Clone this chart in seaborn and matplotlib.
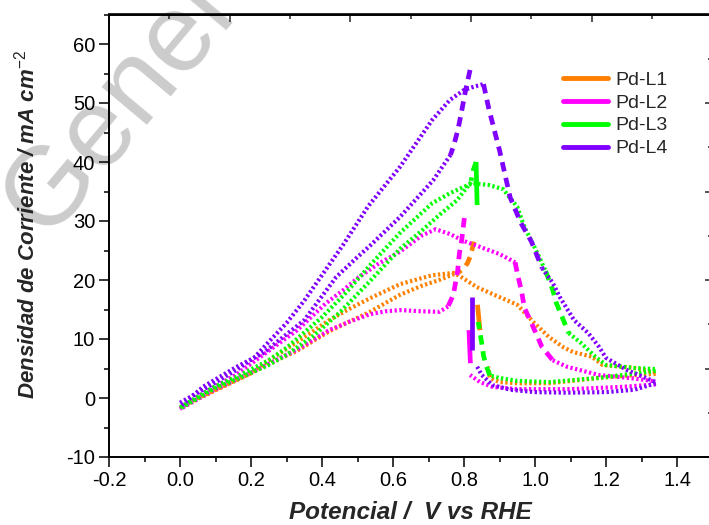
import matplotlib
matplotlib.use("Agg")
import matplotlib.pyplot as plt
from matplotlib.lines import Line2D
from matplotlib.ticker import MultipleLocator, FixedLocator
import numpy as np
import seaborn as sns

# ---------------- cyclic voltammograms (V vs RHE, mA cm^-2) ----------------
labels = ["Pd-L1", "Pd-L2", "Pd-L3", "Pd-L4"]
colors = ["#FF8000", "#FF00FF", "#00FF00", "#8000FF"]

# Pd-L1
L1_fwd_V = [0.00, 0.05, 0.10, 0.20, 0.254, 0.35, 0.42, 0.48, 0.535, 0.62, 0.71, 0.77,
            0.79, 0.836, 0.90, 0.95, 0.995, 1.04, 1.08, 1.107, 1.16, 1.19, 1.277, 1.34]
L1_fwd_j = [-1.7, 0.0, 1.4, 4.2, 6.5, 10.3, 13.2, 15.2, 16.9, 19.3, 20.8, 21.2,
            20.6, 18.8, 17.1, 15.8, 12.9, 10.3, 8.6, 7.8, 7.0, 5.6, 5.1, 4.4]
L1_base_V = [1.34, 1.26, 1.18, 1.04, 0.95, 0.90, 0.873, 0.868]
L1_base_j = [4.1, 3.8, 3.4, 2.5, 2.5, 2.7, 3.4, 5.3]
L1_rise_V = [0.845, 0.838]
L1_rise_j = [11.5, 15.8]
L1_peak_V = [0.828, 0.822, 0.817, 0.81, 0.80, 0.785]
L1_peak_j = [26.5, 25.0, 23.9, 22.9, 22.0, 21.3]
L1_ret_V = [0.785, 0.73, 0.68, 0.62, 0.535, 0.42, 0.33, 0.25, 0.20, 0.10, 0.00]
L1_ret_j = [21.3, 20.0, 19.0, 17.5, 14.6, 11.3, 8.0, 5.8, 4.2, 1.3, -1.6]

# Pd-L2
L2_fwd_V = [0.00, 0.05, 0.10, 0.16, 0.20, 0.25, 0.33, 0.41, 0.46, 0.50, 0.56, 0.62,
            0.68, 0.72, 0.76, 0.80, 0.85, 0.90, 0.944]
L2_fwd_j = [-1.8, 0.3, 2.0, 4.0, 5.8, 8.0, 11.5, 16.0, 18.3, 20.3, 22.8, 24.8,
            27.5, 28.6, 27.8, 26.6, 25.5, 24.4, 23.0]
L2_fall_V = [0.944, 0.95, 0.963, 0.97, 0.99, 1.02, 1.05]
L2_fall_j = [23.0, 21.2, 17.8, 15.3, 12.7, 8.6, 6.4]
L2_tail_V = [1.05, 1.09, 1.18, 1.28, 1.34]
L2_tail_j = [6.4, 5.3, 3.9, 3.3, 2.8]
L2_base_V = [1.34, 1.25, 1.10, 0.95, 0.88, 0.845, 0.817]
L2_base_j = [2.3, 1.9, 1.5, 1.5, 1.9, 2.7, 3.9]
L2_rise_V = [0.818, 0.814]
L2_rise_j = [5.9, 11.5]
L2_peak_V = [0.801, 0.797, 0.793, 0.787, 0.782, 0.77, 0.755]
L2_peak_j = [30.5, 28.5, 26.5, 24.5, 21.5, 17.5, 15.5]
L2_ret_V = [0.755, 0.73, 0.68, 0.62, 0.58, 0.535, 0.48, 0.42, 0.33, 0.25, 0.20, 0.10, 0.00]
L2_ret_j = [15.5, 14.6, 14.7, 14.9, 14.7, 14.2, 13.0, 11.5, 8.2, 5.8, 4.3, 1.5, -1.9]

# Pd-L3
L3_fwd_V = [0.00, 0.05, 0.10, 0.16, 0.25, 0.30, 0.40, 0.47, 0.535, 0.62, 0.71, 0.76,
            0.80, 0.826, 0.87, 0.91, 0.95, 0.97, 1.00, 1.03]
L3_fwd_j = [-1.6, 0.2, 2.0, 3.6, 6.4, 8.5, 13.7, 18.0, 22.5, 28.0, 33.0, 34.7,
            35.8, 36.4, 36.1, 35.4, 32.4, 29.0, 25.4, 21.5]
L3_fall_V = [1.03, 1.05, 1.06, 1.08, 1.095]
L3_fall_j = [21.5, 18.3, 16.1, 13.2, 11.0]
L3_tail_V = [1.095, 1.13, 1.17, 1.20, 1.28, 1.34]
L3_tail_j = [11.0, 9.3, 7.0, 5.6, 5.1, 4.9]
L3_base_V = [1.34, 1.26, 1.18, 1.04, 0.95, 0.90, 0.873]
L3_base_j = [4.6, 4.0, 3.4, 2.7, 2.9, 3.4, 3.8]
L3_rise_V = [0.873, 0.862, 0.855, 0.85, 0.84]
L3_rise_j = [3.8, 5.5, 7.2, 9.3, 12.9]
L3_top_V = [0.837, 0.834]
L3_top_j = [32.7, 40.0]
L3_peak_V = [0.834, 0.826, 0.82]
L3_peak_j = [40.0, 38.6, 36.8]
L3_ret_V = [0.82, 0.78, 0.73, 0.68, 0.62, 0.535, 0.45, 0.375, 0.30, 0.25, 0.16, 0.10, 0.00]
L3_ret_j = [36.6, 33.5, 31.0, 28.3, 25.3, 19.8, 14.5, 10.5, 7.3, 5.6, 3.2, 1.7, -1.8]

# Pd-L4
L4_fwd_V = [0.00, 0.05, 0.11, 0.16, 0.21, 0.25, 0.30, 0.35, 0.41, 0.46, 0.53, 0.62,
            0.71, 0.76, 0.80, 0.83, 0.855]
L4_fwd_j = [-0.8, 0.9, 3.0, 4.8, 6.9, 9.5, 12.7, 16.5, 21.7, 26.0, 32.5, 39.2,
            47.1, 50.5, 52.2, 52.8, 53.2]
L4_fall_V = [0.855, 0.87, 0.90, 0.93, 0.96, 0.99, 1.02]
L4_fall_j = [53.2, 49.0, 42.0, 34.0, 29.7, 26.5, 22.0]
L4_tail_V = [1.02, 1.05, 1.07, 1.11, 1.15, 1.18, 1.20, 1.26, 1.34]
L4_tail_j = [22.0, 19.5, 17.1, 13.2, 11.0, 8.7, 6.8, 4.7, 2.7]
L4_base_V = [1.34, 1.28, 1.20, 1.09, 1.00, 0.93, 0.88, 0.85, 0.836]
L4_base_j = [2.5, 1.4, 1.0, 0.9, 1.0, 1.4, 2.2, 3.9, 5.4]
L4_rise_V = [0.822, 0.822]
L4_rise_j = [8.1, 17.1]
L4_peak_V = [0.817, 0.803, 0.793, 0.783, 0.772, 0.762]
L4_peak_j = [55.6, 51.7, 48.5, 45.5, 43.0, 41.2]
L4_ret_V = [0.762, 0.713, 0.62, 0.535, 0.50, 0.44, 0.35, 0.234, 0.16, 0.065, 0.00]
L4_ret_j = [41.2, 36.9, 30.7, 25.8, 23.9, 20.5, 13.2, 7.6, 5.3, 1.9, -1.5]

# sweep pieces: (V, j, stroke) for each electrode
sweeps = {
    "Pd-L1": [(L1_fwd_V, L1_fwd_j, "dot"), (L1_base_V, L1_base_j, "dot"),
              (L1_rise_V, L1_rise_j, "bar"), (L1_peak_V, L1_peak_j, "dash"),
              (L1_ret_V, L1_ret_j, "dot")],
    "Pd-L2": [(L2_fwd_V, L2_fwd_j, "dot"), (L2_fall_V, L2_fall_j, "dash"),
              (L2_tail_V, L2_tail_j, "dot"), (L2_base_V, L2_base_j, "dot"),
              (L2_rise_V, L2_rise_j, "bar"), (L2_peak_V, L2_peak_j, "dash"),
              (L2_ret_V, L2_ret_j, "dot")],
    "Pd-L3": [(L3_fwd_V, L3_fwd_j, "dot"), (L3_fall_V, L3_fall_j, "dash"),
              (L3_tail_V, L3_tail_j, "dot"), (L3_base_V, L3_base_j, "dot"),
              (L3_rise_V, L3_rise_j, "dash"), (L3_top_V, L3_top_j, "bar"),
              (L3_peak_V, L3_peak_j, "dash"), (L3_ret_V, L3_ret_j, "dot")],
    "Pd-L4": [(L4_fwd_V, L4_fwd_j, "dot"), (L4_fall_V, L4_fall_j, "dash"),
              (L4_tail_V, L4_tail_j, "dot"), (L4_base_V, L4_base_j, "dot"),
              (L4_rise_V, L4_rise_j, "bar"), (L4_peak_V, L4_peak_j, "dash"),
              (L4_ret_V, L4_ret_j, "dot")],
}

x_major = [-0.2, 0.0, 0.2, 0.4, 0.6, 0.8, 1.0, 1.2, 1.4]
y_major = [-10, 0, 10, 20, 30, 40, 50, 60]

# ---------------- styling ----------------
sns.set_theme(style="ticks")
plt.rcParams["font.family"] = ["Liberation Sans", "DejaVu Sans"]
plt.rcParams["axes.unicode_minus"] = False
plt.rcParams["mathtext.fontset"] = "custom"
plt.rcParams["mathtext.rm"] = "Liberation Sans"
plt.rcParams["mathtext.it"] = "Liberation Sans:italic"
plt.rcParams["mathtext.bf"] = "Liberation Sans:bold"

strokes = {
    "dot": dict(lw=3.0, linestyle=(0, (0.55, 0.6)), dash_capstyle="butt"),
    "dash": dict(lw=3.4, linestyle=(0, (2.0, 1.4)), dash_capstyle="butt"),
    "bar": dict(lw=3.4, linestyle="-", solid_capstyle="butt"),
}

fig = plt.figure(figsize=(7.09, 5.25), dpi=100)
ax = fig.add_axes([109 / 709, 68 / 525, 603.5 / 709, 442.5 / 525])
ax.patch.set_alpha(0)

for name, color in zip(labels, colors):
    for V, j, kind in sweeps[name]:
        sns.lineplot(x=V, y=j, ax=ax, sort=False, estimator=None, color=color,
                     legend=False, **strokes[kind])

ax.set_xlim(-0.2, 1.5)
ax.set_ylim(-10, 65)
ax.xaxis.set_major_locator(FixedLocator(x_major))
ax.xaxis.set_minor_locator(MultipleLocator(0.1))
ax.yaxis.set_major_locator(FixedLocator(y_major))
ax.yaxis.set_minor_locator(MultipleLocator(5))
ax.set_xticklabels([f"{v:.1f}" for v in x_major])
ax.set_yticklabels([f"{v:d}" for v in y_major])

for side in ["left", "bottom", "top", "right"]:
    ax.spines[side].set_visible(True)
    ax.spines[side].set_linewidth(1.4)
    ax.spines[side].set_color("black")

ax.tick_params(axis="both", which="major", direction="out", length=7, width=1.1,
               labelsize=14.5, colors="black", pad=3)
ax.tick_params(axis="both", which="minor", direction="out", length=3.5, width=1.1,
               colors="black")

# opposite axes carry their own evenly spaced inward ticks
top = ax.secondary_xaxis("top")
top_major = np.linspace(-0.2, 1.5, 6)
top.xaxis.set_major_locator(FixedLocator(top_major))
top.xaxis.set_minor_locator(FixedLocator((top_major[:-1] + top_major[1:]) / 2))
top.tick_params(which="major", direction="in", length=6, width=1.1, labeltop=False)
top.tick_params(which="minor", direction="in", length=3.5, width=1.1)
top.spines["top"].set_linewidth(1.4)

right = ax.secondary_yaxis("right")
right_major = np.linspace(-10, 65, 6)
right.yaxis.set_major_locator(FixedLocator(right_major))
right.yaxis.set_minor_locator(FixedLocator((right_major[:-1] + right_major[1:]) / 2))
right.tick_params(which="major", direction="in", length=6, width=1.1, labelright=False)
right.tick_params(which="minor", direction="in", length=3.5, width=1.1)

ax.set_xlabel("Potencial /  V vs RHE", fontsize=17.5, fontweight="bold",
              fontstyle="italic", labelpad=8)
ax.set_ylabel("Densidad de Corriente / mA cm$^{-2}$", fontsize=16,
              fontweight="bold", fontstyle="italic")
ax.yaxis.set_label_coords(-0.115, 0.525)

handles = [Line2D([0], [0], color=c, lw=3.5) for c in colors]
ax.legend(handles, labels, loc="upper left", bbox_to_anchor=(0.752, 0.872),
          frameon=False, fontsize=14, handlelength=2.3, handletextpad=0.4,
          labelspacing=0.27, borderpad=0, borderaxespad=0)

fig.text(0.065, 0.545, "Generated", rotation=50, rotation_mode="anchor",
         fontsize=80, color="#cccccc", zorder=-1, ha="left", va="baseline")

fig.savefig("out.png", dpi=100)
